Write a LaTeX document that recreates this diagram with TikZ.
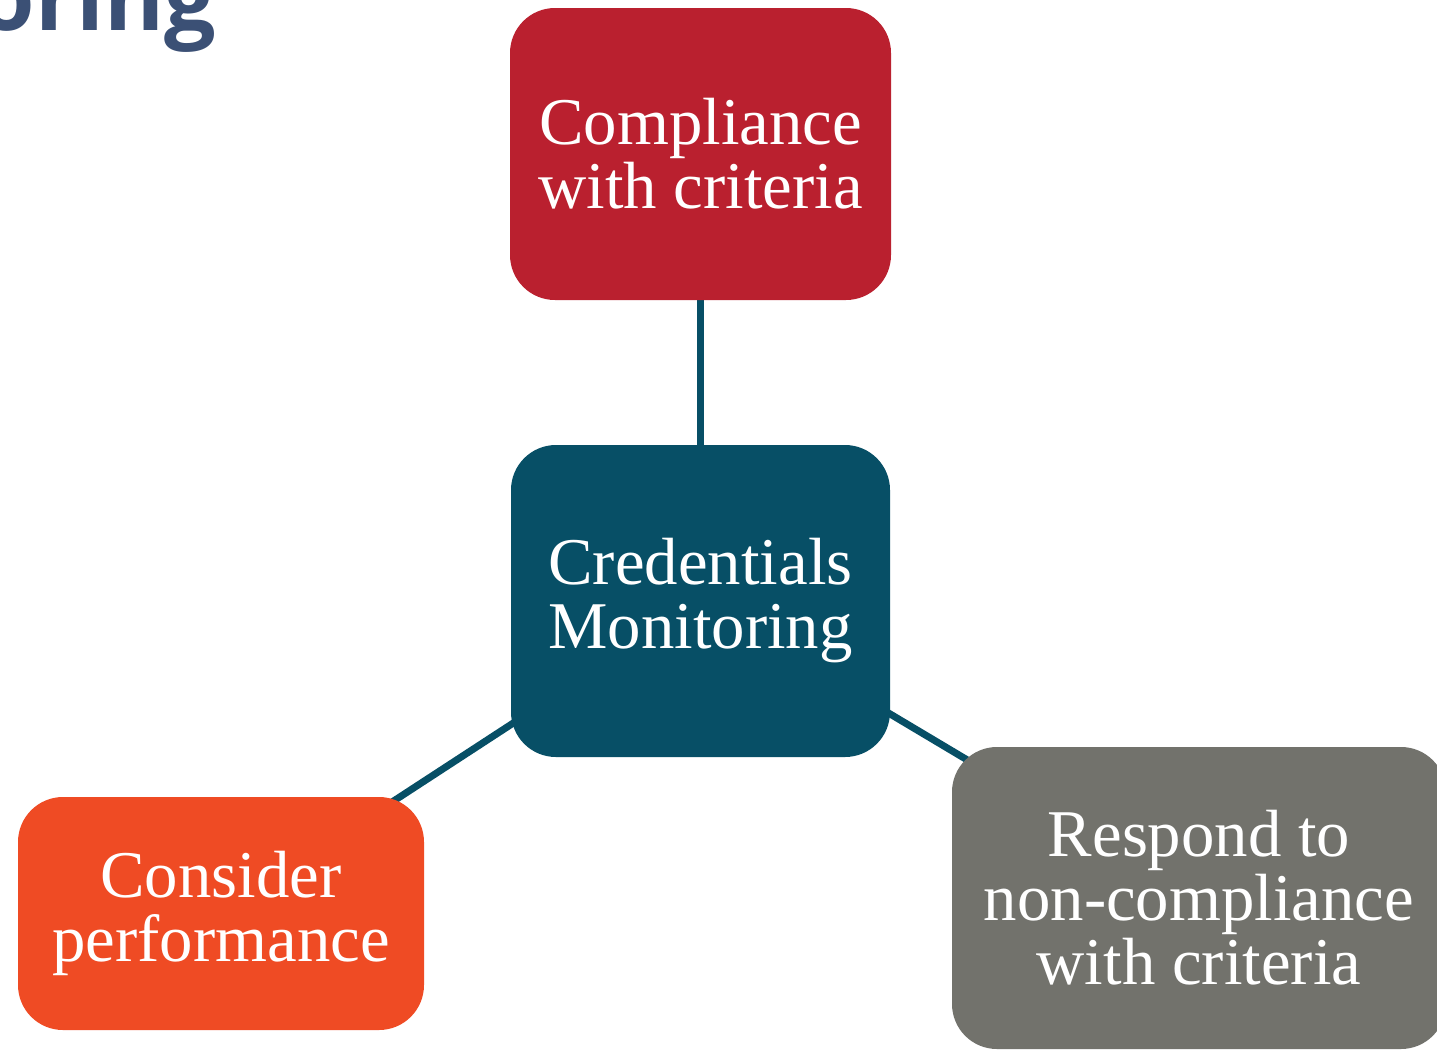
\documentclass[tikz,border=0pt]{standalone}
\usepackage{fontspec}
\setmainfont{Liberation Serif}
\newfontfamily\titlefont{Open Sans}
\usepackage{tikz}
\usetikzlibrary{positioning,backgrounds}
\definecolor{crimson}{HTML}{BA202F}
\definecolor{petrol}{HTML}{074F66}
\definecolor{blaze}{HTML}{EF4B24}
\definecolor{slate}{HTML}{72726C}
\definecolor{titleblue}{HTML}{3B5075}
\tikzset{
	box/.style={rounded corners=0.45cm, text=white, align=center, inner sep=0pt,
		font=\fontsize{19}{18.2}\selectfont},
	link/.style={draw=petrol, line width=2pt},
}

\begin{document}
\begin{tikzpicture}
		\useasboundingbox (0,0) rectangle (14.37,-10.50);
		\node[anchor=base east, text=titleblue, font=\titlefont\bfseries\fontsize{26}{26}\selectfont] (title) at (2.29,-0.30) {Monitoring};

		\node[box, fill=crimson, minimum width=3.81cm, minimum height=2.92cm] (comply) at (7.005,-1.54) {Compliance\\with criteria};
		\node[box, fill=petrol, minimum width=3.79cm, minimum height=3.12cm] (monitor) at (7.005,-6.01) {Credentials\\Monitoring};
		\node[box, fill=blaze, minimum width=4.06cm, minimum height=2.33cm] (perform) at (2.21,-9.135) {Consider\\performance};
		\node[box, fill=slate, minimum width=4.94cm, minimum height=3.02cm] (respond) at (11.99,-8.98) {Respond to\\non-compliance\\with criteria};

		\begin{scope}[on background layer]
		\draw[link] (monitor.center) edge (comply.center)
		(monitor.center) edge (perform.center)
		(monitor.center) edge (respond.center);
		\end{scope}
	\end{tikzpicture}
\end{document}
